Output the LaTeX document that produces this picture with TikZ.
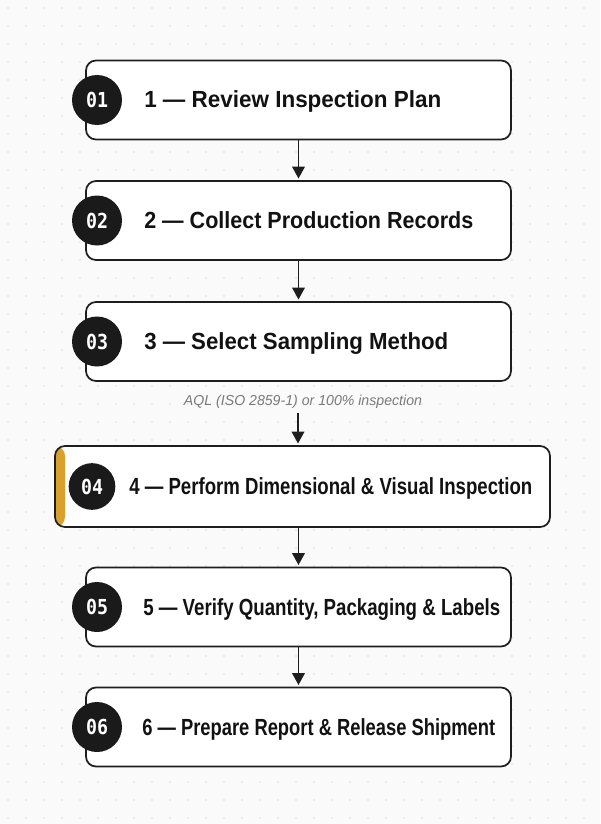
\documentclass[tikz,border=0pt]{standalone}
\usepackage{fontspec}
\setmainfont{Liberation Sans}
\newfontfamily\digitfont{DejaVu Sans Mono}
\usetikzlibrary{arrows.meta}
\definecolor{bgc}{HTML}{FAFAFA}
\definecolor{dotc}{HTML}{DCDCDC}
\definecolor{ink}{HTML}{121212}
\definecolor{edge}{HTML}{1E1E1E}
\definecolor{badge}{HTML}{1A1A1A}
\definecolor{accent}{HTML}{D9A02D}
\definecolor{note}{HTML}{7A7A7A}
\newcommand\ttltext[2]{\resizebox{#1}{\height}{\fontsize{17.5pt}{20pt}\selectfont\bfseries #2}}
\newcommand\digits[1]{\resizebox{16.5pt}{11.5pt}{\digitfont\bfseries #1}}
\tikzset{
  stepbox/.style={draw=edge, line width=1.3pt, fill=white, rounded corners=7.5pt,
    minimum width=318.75pt, minimum height=59.25pt, inner sep=0pt},
  widebox/.style={stepbox, minimum width=371.25pt, minimum height=60.75pt,
    path picture={\fill[accent] (path picture bounding box.north west) rectangle ([xshift=7.5pt]path picture bounding box.south west);}},
  badgenode/.style={circle, fill=badge, text=white, minimum size=37.5pt, inner sep=0pt},
  smallbadge/.style={badgenode, minimum size=35pt},
  titlenode/.style={anchor=base west, inner sep=0pt, text=ink},
  notenode/.style={anchor=base, inner sep=0pt, text=note},
  arr/.style={draw=edge, line width=1.3pt, -{Triangle[width=9.5pt,length=9pt]}, shorten >=1.2pt},
}
\begin{document}
\begin{tikzpicture}[x=0.75pt,y=-0.75pt]
\useasboundingbox (0,0) rectangle (600,824);
\fill[bgc] (0,0) rectangle (600,824);
\foreach \i in {0,...,32} \foreach \j in {0,...,45}
  \fill[dotc] (8+18*\i,8+18*\j) circle (0.9);

% boxes
\node[stepbox] (b1) at (298.5,100) {};
\node[stepbox] (b2) at (298.5,220.5) {};
\node[stepbox] (b3) at (298.5,341.5) {};
\node[widebox] (b4) at (302.5,486.5) {};
\node[stepbox] (b5) at (298.5,607) {};
\node[stepbox] (b6) at (298.5,727) {};

% badges
\node[badgenode] (c1) at (97,100) {\digits{01}};
\node[badgenode] (c2) at (97,220.5) {\digits{02}};
\node[badgenode] (c3) at (97,341.5) {\digits{03}};
\node[smallbadge] (c4) at (92,486.5) {\digits{04}};
\node[badgenode] (c5) at (97,607) {\digits{05}};
\node[badgenode] (c6) at (97,727) {\digits{06}};

% titles
\node[titlenode] (t1) at (144,108) {\ttltext{222.75pt}{1 — Review Inspection Plan}};
\node[titlenode] (t2) at (144,228.5) {\ttltext{246.75pt}{2 — Collect Production Records}};
\node[titlenode] (t3) at (144,349.5) {\ttltext{228pt}{3 — Select Sampling Method}};
\node[titlenode] (t4) at (129,494.5) {\ttltext{302.25pt}{4 — Perform Dimensional \& Visual Inspection}};
\node[titlenode] (t5) at (143,615) {\ttltext{267.75pt}{5 — Verify Quantity, Packaging \& Labels}};
\node[titlenode] (t6) at (142,735) {\ttltext{264.75pt}{6 — Prepare Report \& Release Shipment}};

% note
\node[notenode] (n3) at (303,405) {\resizebox{178.5pt}{\height}{\fontsize{10.8pt}{12pt}\selectfont\itshape AQL (ISO 2859-1) or 100\% inspection}};
\coordinate (n3out) at (298,413);

% connectors
\draw[arr] (b1.south) -- (b2.north);
\draw[arr] (b2.south) -- (b3.north);
\draw[arr] (n3out) -- (n3out |- b4.north);
\draw[arr] (b4.south -| b5.north) -- (b5.north);
\draw[arr] (b5.south) -- (b6.north);
\end{tikzpicture}
\end{document}
